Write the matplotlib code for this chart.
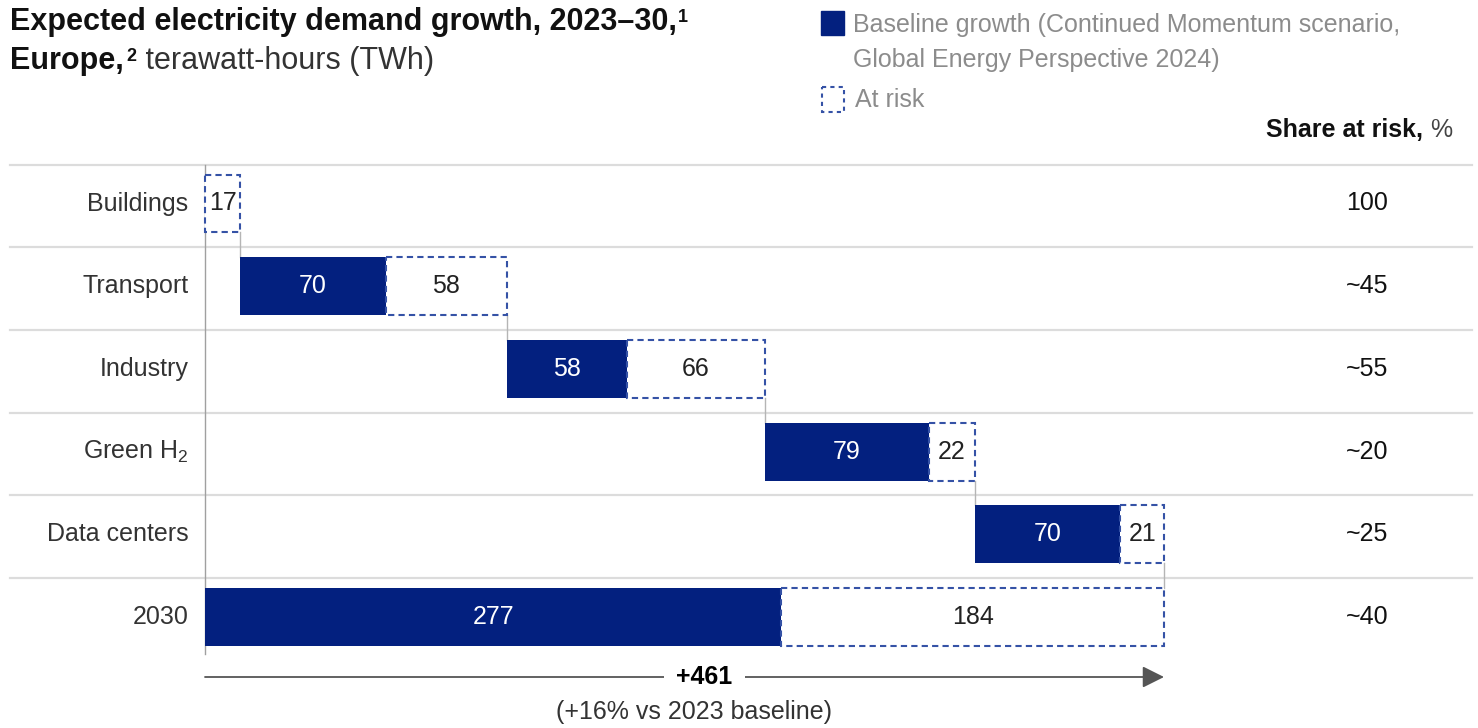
import numpy as np
import matplotlib
matplotlib.use('Agg')
import matplotlib.pyplot as plt
from matplotlib.patches import Rectangle, FancyArrowPatch

# data
categories = ['Buildings', 'Transport', 'Industry', 'Green H$_\\mathrm{2}$', 'Data centers', '2030']
baseline = [0, 70, 58, 79, 70, 277]
at_risk = [17, 58, 66, 22, 21, 184]
share_at_risk = ['100', '~45', '~55', '~20', '~25', '~40']
total_label = '+461'
total_note = '(+16% vs 2023 baseline)'

plt.rcParams['font.family'] = ['Liberation Sans', 'DejaVu Sans']
plt.rcParams['mathtext.fontset'] = 'custom'
plt.rcParams['mathtext.rm'] = 'Liberation Sans'

NAVY = '#03207f'
DASH = '#3552a6'
GRID = '#dcdcdc'

W, H = 1478, 728
fig = plt.figure(figsize=(W / 100, H / 100), dpi=100)

# pixel layout of the data area
x0_px, px_per_unit = 205, 959 / 461
row0_px, row_px = 203.5, 82.7

ax = fig.add_axes([0, 0, 1, 1])
ax.set_xlim(-x0_px / px_per_unit, (W - x0_px) / px_per_unit)
ax.set_ylim((H - row0_px) / row_px, -row0_px / row_px)
ax.axis('off')

# overlay in pixel coords for titles / legend
lay = fig.add_axes([0, 0, 1, 1], facecolor='none')
lay.set_xlim(0, W)
lay.set_ylim(H, 0)
lay.axis('off')

n = len(categories)
bar_h = 0.70
fs = 18

# grid lines between rows
for i in range(n):
    ax.axhline(i - 0.47, xmin=10 / W, xmax=1472 / W, color=GRID, lw=1.6, zorder=0)

# zero axis line
ax.plot([0, 0], [-0.47, 5.45], color='#a0a0a0', lw=1, zorder=1)

# waterfall starts (last row = total, starts at 0)
starts = []
cum = 0
for i in range(n - 1):
    starts.append(cum)
    cum += baseline[i] + at_risk[i]
starts.append(0)

for i in range(n):
    s = starts[i]
    b = baseline[i]
    r = at_risk[i]
    if b > 0:
        ax.barh(i, b, left=s, height=bar_h, color=NAVY, zorder=2)
        ax.text(s + b / 2, i, str(b), color='white', ha='center', va='center', fontsize=fs, zorder=4)
    ax.barh(i, r, left=s + b, height=bar_h, color='white', edgecolor=DASH,
            linestyle=(0, (3, 2)), linewidth=1.5, zorder=3)
    ax.text(s + b + r / 2, i, str(r), color='#222222', ha='center', va='center', fontsize=fs, zorder=4)
    ax.text(-8, i, categories[i], ha='right', va='center', fontsize=fs, color='#333333')
    # connector to next bar
    if i < n - 1:
        end = s + b + r
        ax.plot([end, end], [i + bar_h / 2, i + 1 - bar_h / 2], color='#b5b5b5', lw=1, zorder=1)

# share at risk column
for i in range(n):
    ax.text((1367 - x0_px) / px_per_unit, i, share_at_risk[i], ha='center', va='center',
            fontsize=fs, color='#111111')
t_pct = lay.text(1452, 130, '%', ha='right', va='center', fontsize=fs, color='#444444')
lay.annotate('Share at risk, ', xy=(0, 0.5), xycoords=t_pct, ha='right', va='center',
             fontsize=fs, fontweight='bold', color='#111111')

# total arrow
total = baseline[-1] + at_risk[-1]
y_arrow = (677 - row0_px) / row_px
ax.add_patch(FancyArrowPatch((0, y_arrow), (total, y_arrow),
                             arrowstyle='-|>,head_length=0.6,head_width=0.3', mutation_scale=22,
                             color='#555555', lw=1.3, shrinkA=0, shrinkB=0, zorder=2))
ax.text(240, y_arrow, total_label, ha='center', va='center', fontsize=fs, fontweight='bold',
        bbox=dict(facecolor='white', edgecolor='none', pad=9), zorder=3)
ax.text(235, (712 - row0_px) / row_px, total_note, ha='center', va='center', fontsize=fs, color='#333333')

# title
t1 = lay.text(10, 22, 'Expected electricity demand growth, 2023\u201330,', ha='left', va='center',
              fontsize=22, fontweight='bold', color='#111111')
lay.annotate('1', xy=(1, 0.92), xycoords=t1, xytext=(1, 0), textcoords='offset points',
             ha='left', va='top', fontsize=13, fontweight='bold', color='#111111')
t2 = lay.text(10, 61, 'Europe,', ha='left', va='center', fontsize=22, fontweight='bold',
              color='#111111')
t2s = lay.annotate('2', xy=(1, 0.92), xycoords=t2, xytext=(2, 0), textcoords='offset points',
                   ha='left', va='top', fontsize=13, fontweight='bold', color='#111111')
lay.annotate(' terawatt-hours (TWh)', xy=(1, 0), xycoords=(t2s, t2), ha='left', va='bottom',
             fontsize=22, color='#333333')

# legend
lay.add_patch(Rectangle((821, 11), 23, 24, color=NAVY))
lay.text(853, 25, 'Baseline growth (Continued Momentum scenario,', ha='left', va='center',
         fontsize=fs, color='#8c8c8c')
lay.text(853, 60, 'Global Energy Perspective 2024)', ha='left', va='center', fontsize=fs, color='#8c8c8c')
lay.add_patch(Rectangle((822, 87), 22, 25, facecolor='white', edgecolor=DASH, lw=1.5, linestyle=(0, (2, 2))))
lay.text(855, 100, 'At risk', ha='left', va='center', fontsize=fs, color='#8c8c8c')

fig.savefig('out.png', dpi=100)
